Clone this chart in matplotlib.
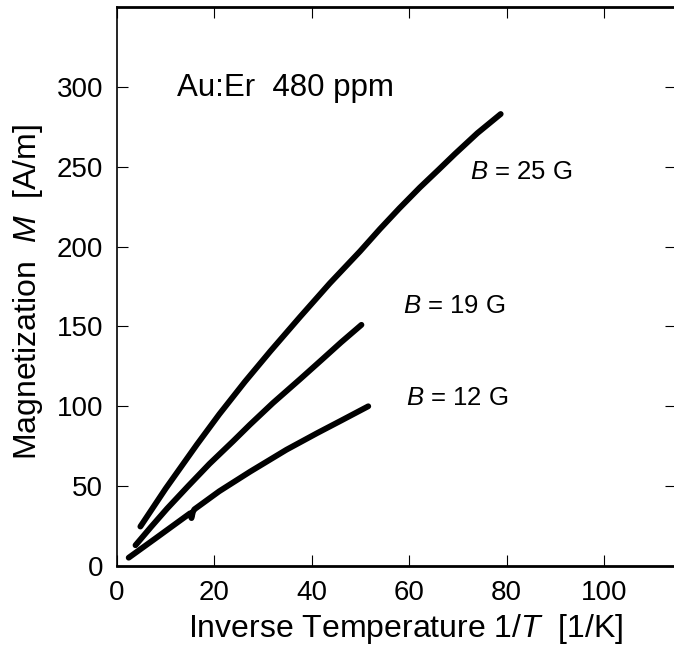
import matplotlib
matplotlib.use('Agg')
import matplotlib.pyplot as plt

plt.rcParams['font.family'] = ['Liberation Sans', 'DejaVu Sans']
plt.rcParams['mathtext.fontset'] = 'custom'
plt.rcParams['mathtext.rm'] = 'Liberation Sans'
plt.rcParams['mathtext.it'] = 'Liberation Sans:italic'

# curves: inverse temperature [1/K] vs magnetization [A/m]
x_25 = [4.8, 10, 16.4, 21, 26.3, 31.5, 37.6, 43.7, 49.9, 54, 58, 62.2, 66, 69.4, 74, 78.8]
m_25 = [24.7, 48.5, 76, 95, 115.5, 134.5, 156, 177, 197, 211, 224, 237, 248, 258, 271, 283]

x_19 = [3.8, 7, 10.3, 14.6, 19, 23.8, 27.3, 32, 37.6, 42, 46, 50.2]
m_19 = [13, 24.5, 36, 50, 64, 78, 88.5, 102, 117, 129, 140, 151]

x_12 = [2.4, 8, 15.0, 15.3, 15.6, 15.9, 21, 27.3, 34.8, 41.1, 46, 51.6]
m_12 = [5.2, 17.5, 33, 30, 34, 35.5, 46.8, 59, 72.8, 83.2, 91, 100]

curve_labels = ['$B$ = 25 G', '$B$ = 19 G', '$B$ = 12 G']
label_pos = [(72.5, 247), (58.8, 163), (59.3, 105)]

xticks = [0, 20, 40, 60, 80, 100]
yticks = [0, 50, 100, 150, 200, 250, 300]

fig = plt.figure(figsize=(6.74, 6.50), dpi=100)
ax = fig.add_axes([117 / 674, 1 - 566 / 650, 559 / 674, 559 / 650])

for xs, ms in [(x_25, m_25), (x_19, m_19), (x_12, m_12)]:
    ax.plot(xs, ms, color='black', lw=4.2, solid_capstyle='round',
            solid_joinstyle='round')

for lab, (tx, ty) in zip(curve_labels, label_pos):
    ax.text(tx, ty, lab, fontsize=18.5, va='center', ha='left')

ax.text(12.3, 294, 'Au:Er  480 ppm', fontsize=22.5, va='baseline', ha='left')

ax.set_xlim(0, 114.8)
ax.set_ylim(0, 350)
ax.set_xticks(xticks)
ax.set_yticks(yticks)
ax.tick_params(direction='in', length=8, width=0.8, labelsize=20, pad=10,
               top=True, right=True)

ax.spines['bottom'].set_linewidth(2)
ax.spines['top'].set_linewidth(2)
ax.spines['left'].set_linewidth(1.2)
ax.spines['right'].set_linewidth(1.2)

ax.set_xlabel('Inverse Temperature 1/$T$  [1/K]', fontsize=23)
ax.xaxis.set_label_coords((406 - 117) / 559, -0.082)
ax.set_ylabel('Magnetization  $M$  [A/m]', fontsize=23)
ax.yaxis.set_label_coords(-0.128, 0.49)

fig.savefig('out.png', dpi=100)
